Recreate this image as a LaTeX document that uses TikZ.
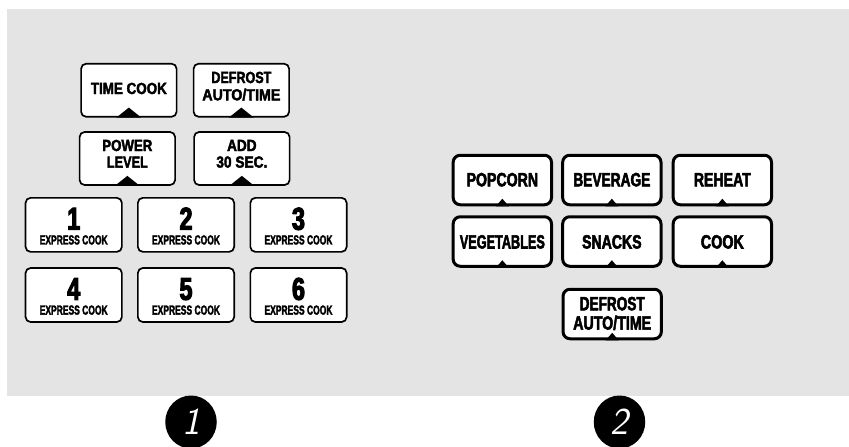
\documentclass[tikz,border=0pt]{standalone}
\usepackage{fontspec}
\usepackage{graphicx}
\usetikzlibrary{shapes.geometric}
\newfontfamily\fntA[FakeStretch=0.93, BoldFeatures={FakeBold=2.6}]{Liberation Sans}
\newfontfamily\fntB[FakeStretch=0.74, BoldFeatures={FakeBold=2.4}]{Liberation Sans}
\newfontfamily\fntC[FakeStretch=0.74, BoldFeatures={FakeBold=3.5}]{Liberation Sans}
\newfontfamily\fntD[FakeStretch=0.80, BoldFeatures={FakeBold=2.8}]{Liberation Sans}
\newcommand{\fw}[2]{\resizebox{#1pt}{1.13\height}{#2}}
\definecolor{panelgray}{HTML}{E4E4E4}
\tikzset{
  keyL/.style={draw=black, fill=white, line width=1.7pt, rounded corners=5pt, inner sep=0pt, minimum width=95.5pt, minimum height=53pt},
  keyN/.style={keyL, minimum width=96.3pt, minimum height=54pt},
  keyR/.style={draw=black, fill=white, line width=3pt, rounded corners=7pt, inner sep=0pt, minimum width=98.3pt, minimum height=49.5pt},
  lblA/.style={anchor=base, inner sep=0pt, font=\fntA\bfseries\fontsize{14.2}{17}\selectfont},
  lblB/.style={anchor=base, inner sep=0pt, font=\fntB\bfseries\fontsize{11.6}{14}\selectfont},
  lblC/.style={anchor=base, inner sep=0pt, font=\fntC\bfseries\fontsize{31.5}{32}\selectfont},
  lblD/.style={anchor=base, inner sep=0pt, font=\fntD\bfseries\fontsize{17}{19}\selectfont},
  badge/.style={ellipse, fill=black, inner sep=0pt, minimum width=51.5pt, minimum height=53pt, text=white, font=\sffamily\slshape\fontsize{38}{38}\selectfont},
}
\newcommand{\bigtri}[1]{\fill[black] (#1.south) ++(-12.5,0) -- ++(12.5,-10) -- ++(12.5,10) -- cycle;}
\newcommand{\smalltri}[1]{\fill[black] (#1.south) ++(-6.5,0) -- ++(6.5,-7.5) -- ++(6.5,7.5) -- cycle;}
\begin{document}
\begin{tikzpicture}[x=1pt, y=-1pt]
\useasboundingbox (0,0) rectangle (849,447);
\fill[panelgray] (7,9) rectangle (849,396);

% left panel: top keys
\node[keyL] (tc) at (128.85,90.25) {};
\node[keyL] (df) at (241.35,90.25) {};
\node[keyL] (pl) at (127.35,158.5) {};
\node[keyL] (ad) at (241.85,158.5) {};
\bigtri{tc} \bigtri{df} \bigtri{pl} \bigtri{ad}
\node[lblA] (tct) at (128.85,94) {\fw{76}{TIME COOK}};
\node[lblA] (dft1) at (241.35,83) {\fw{60}{DEFROST}};
\node[lblA] (dft2) at (241.35,100.3) {\fw{78}{AUTO/TIME}};
\node[lblA] (plt1) at (127.35,151) {\fw{50}{POWER}};
\node[lblA] (plt2) at (127.35,167.6) {\fw{41}{LEVEL}};
\node[lblA] (adt1) at (241.85,151) {\fw{29.5}{ADD}};
\node[lblA] (adt2) at (241.85,167.6) {\fw{51}{30 SEC.}};

% number keys
\foreach \n/\x/\y in {1/73.7/224.85, 2/186/224.85, 3/298.5/224.85, 4/73.7/295, 5/186/295, 6/298.5/295}{
  \node[keyN] (k\n) at (\x,\y) {};
  \node[lblC] (k\n d) at (\x,\y+4.8) {\n};
  \node[lblB] (k\n e) at (\x,\y+19.6) {\fw{68}{EXPRESS COOK}};
}

% right panel
\node[keyR] (pop) at (502.35,180) {};
\node[keyR] (bev) at (611.85,180) {};
\node[keyR] (reh) at (722.35,180) {};
\node[keyR] (veg) at (502.35,241.5) {};
\node[keyR] (snk) at (611.85,241.5) {};
\node[keyR] (cok) at (722.35,241.5) {};
\node[keyR] (dfr) at (612.2,314) {};
\smalltri{pop} \smalltri{bev} \smalltri{reh}
\smalltri{veg} \smalltri{snk} \smalltri{cok} \smalltri{dfr}
\node[lblD] (popt) at (502.35,186.3) {\fw{71.5}{POPCORN}};
\node[lblD] (bevt) at (611.85,186.3) {\fw{77}{BEVERAGE}};
\node[lblD] (reht) at (722.35,186.3) {\fw{57}{REHEAT}};
\node[lblD] (vegt) at (502.35,248.5) {\fw{85}{VEGETABLES}};
\node[lblD] (snkt) at (611.85,248.5) {\fw{59.5}{SNACKS}};
\node[lblD] (cokt) at (722.35,248.5) {\fw{43}{COOK}};
\node[lblD] (dfrt1) at (612.2,310.3) {\fw{65}{DEFROST}};
\node[lblD] (dfrt2) at (612.2,329.6) {\fw{78}{AUTO/TIME}};

% badges
\node[badge] (b1) at (191,422) {1};
\node[badge] (b2) at (619.5,422) {2};
\end{tikzpicture}
\end{document}
